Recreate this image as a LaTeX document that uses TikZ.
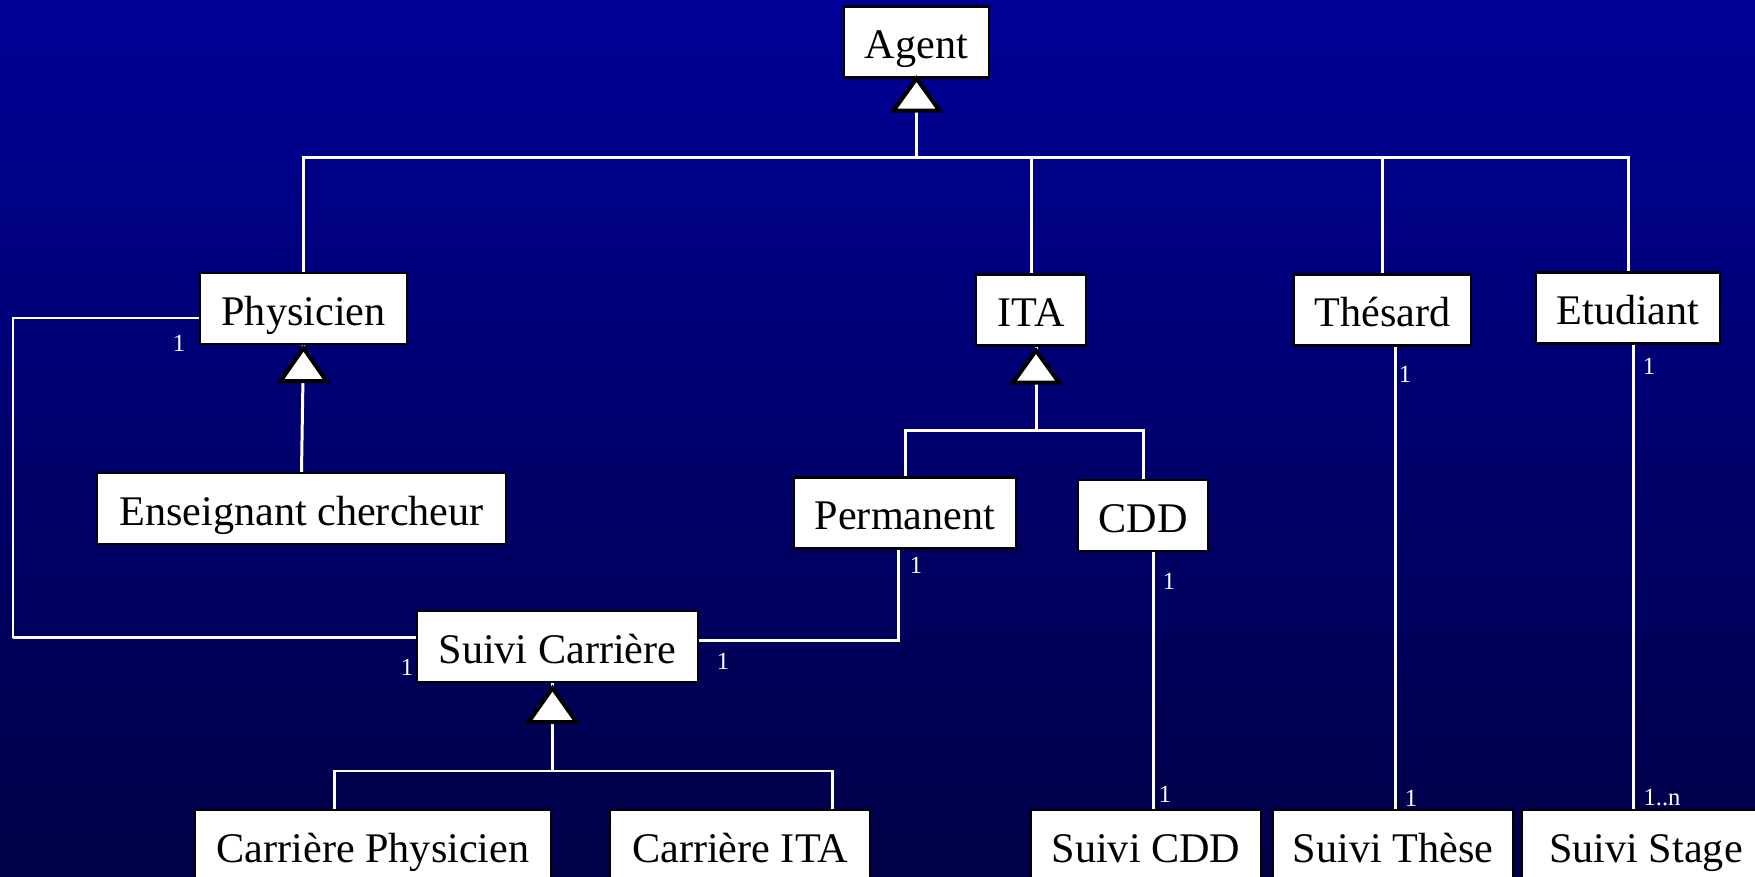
\documentclass[tikz,border=0pt]{standalone}
\usepackage{fontspec}
\setmainfont{Liberation Serif}
\definecolor{slidetop}{RGB}{0,0,150}
\definecolor{slidebot}{RGB}{0,0,70}
\tikzset{
  classe/.style={draw=black, line width=0.6pt, fill=white, minimum height=0.71cm, inner sep=0pt, text height=0.38cm, text depth=0.05cm, font=\fontsize{12}{14}\selectfont},
  link/.style={draw=white, line width=0.85pt},
  inherit/.style={draw=black, fill=white, line width=1.15pt, line join=miter},
  mult/.style={text=white, inner sep=0pt, font=\fontsize{7}{8}\selectfont}
}
\begin{document}
\begin{tikzpicture}[x=0.01cm, y=-0.01cm]
            \useasboundingbox (0,0) rectangle (1755,877);
            \clip (0,0) rectangle (1755,877);
            \shade[top color=slidetop, bottom color=slidebot] (0,0) rectangle (1755,877);
            % classes
            \node[classe, minimum width=1.45cm] (agent) at (916.5,42) {Agent};
            \node[classe, minimum width=2.07cm] (phys) at (303.5,308.5) {Physicien};
            \node[classe, minimum width=1.10cm] (ita) at (1031,310) {ITA};
            \node[classe, minimum width=1.77cm] (thes) at (1382.5,310) {Thésard};
            \node[classe, minimum width=1.84cm] (etud) at (1628,308) {Etudiant};
            \node[classe, minimum width=4.09cm] (ens) at (301.5,508.5) {Enseignant chercheur};
            \node[classe, minimum width=2.22cm] (perm) at (905,513) {Permanent};
            \node[classe, minimum width=1.30cm] (cdd) at (1143,515.5) {CDD};
            \node[classe, minimum width=2.81cm] (suivi) at (557.5,646.5) {Suivi Carrière};
            \node[classe, minimum width=3.56cm, anchor=north] (carphys) at (373,809) {Carrière Physicien};
            \node[classe, minimum width=2.60cm, anchor=north] (carita) at (740,809) {Carrière ITA};
            \node[classe, minimum width=2.30cm, anchor=north] (scdd) at (1146,809) {Suivi CDD};
            \node[classe, minimum width=2.40cm, anchor=north] (sthese) at (1393,809) {Suivi Thèse};
            \node[classe, minimum width=2.48cm, anchor=north] (sstage) at (1646,809) {Suivi Stage};
            % heritage
            \coordinate (top) at (916.5,158);
            \coordinate (itabus) at (1036,431);
            \coordinate (sbus) at (552,771);
            \draw[link] (phys.north) |- (top) -| (etud.north);
            \draw[link] (ita.north) -- (ita.north |- top);
            \draw[link] (thes.north) -- (thes.north |- top);
            \draw[link] (top) -- (agent.south);
            \draw[link] (ens.north) -- (phys.south);
            \draw[link] (perm.north) |- (itabus) -| (cdd.north);
            \draw[link] (itabus) -- (itabus |- ita.south);
            \draw[link] ([xshift=-0.38cm]carphys.north) |- (sbus) -| ([xshift=0.92cm]carita.north);
            \draw[link] (sbus) -- (sbus |- suivi.south);
            \draw[inherit] (agent.south) -- ++(-23,32) -- ++(46,0) -- cycle;
            \draw[inherit] ([yshift=-0.03cm]phys.south) -- ++(-23,33) -- ++(46,0) -- cycle;
            \draw[inherit] ([xshift=0.05cm, yshift=-0.04cm]ita.south) -- ++(-23,32) -- ++(46,0) -- cycle;
            \draw[inherit] ([xshift=-0.05cm, yshift=-0.05cm]suivi.south) -- ++(-24,34) -- ++(48,0) -- cycle;
            % associations
            \coordinate (lft) at (13,638);
            \draw[link] ([yshift=-0.095cm]phys.west) -| (lft) |- ([yshift=0.085cm]suivi.west);
            \draw[link] ([xshift=-0.07cm]perm.south) |- ([yshift=0.055cm]suivi.east);
            \draw[link] ([xshift=0.07cm]scdd.north) -- ([xshift=0.07cm]scdd.north |- cdd.south);
            \draw[link] ([xshift=0.125cm]thes.south) -- ([xshift=0.125cm]thes.south |- sthese.north);
            \draw[link] ([xshift=0.05cm]etud.south) -- ([xshift=0.05cm]etud.south |- sstage.north);
            % multiplicites
            \node[mult] (m1) at (179,343) {1};
            \node[mult] (m2) at (407,667) {1};
            \node[mult] (m3) at (916,565) {1};
            \node[mult] (m4) at (723,661) {1};
            \node[mult] (m5) at (1169,581) {1};
            \node[mult] (m6) at (1165,794) {1};
            \node[mult] (m7) at (1405,374) {1};
            \node[mult] (m8) at (1411,798) {1};
            \node[mult] (m9) at (1649,366) {1};
            \node[mult] (m10) at (1662,798) {1..n};
      \end{tikzpicture}
\end{document}
